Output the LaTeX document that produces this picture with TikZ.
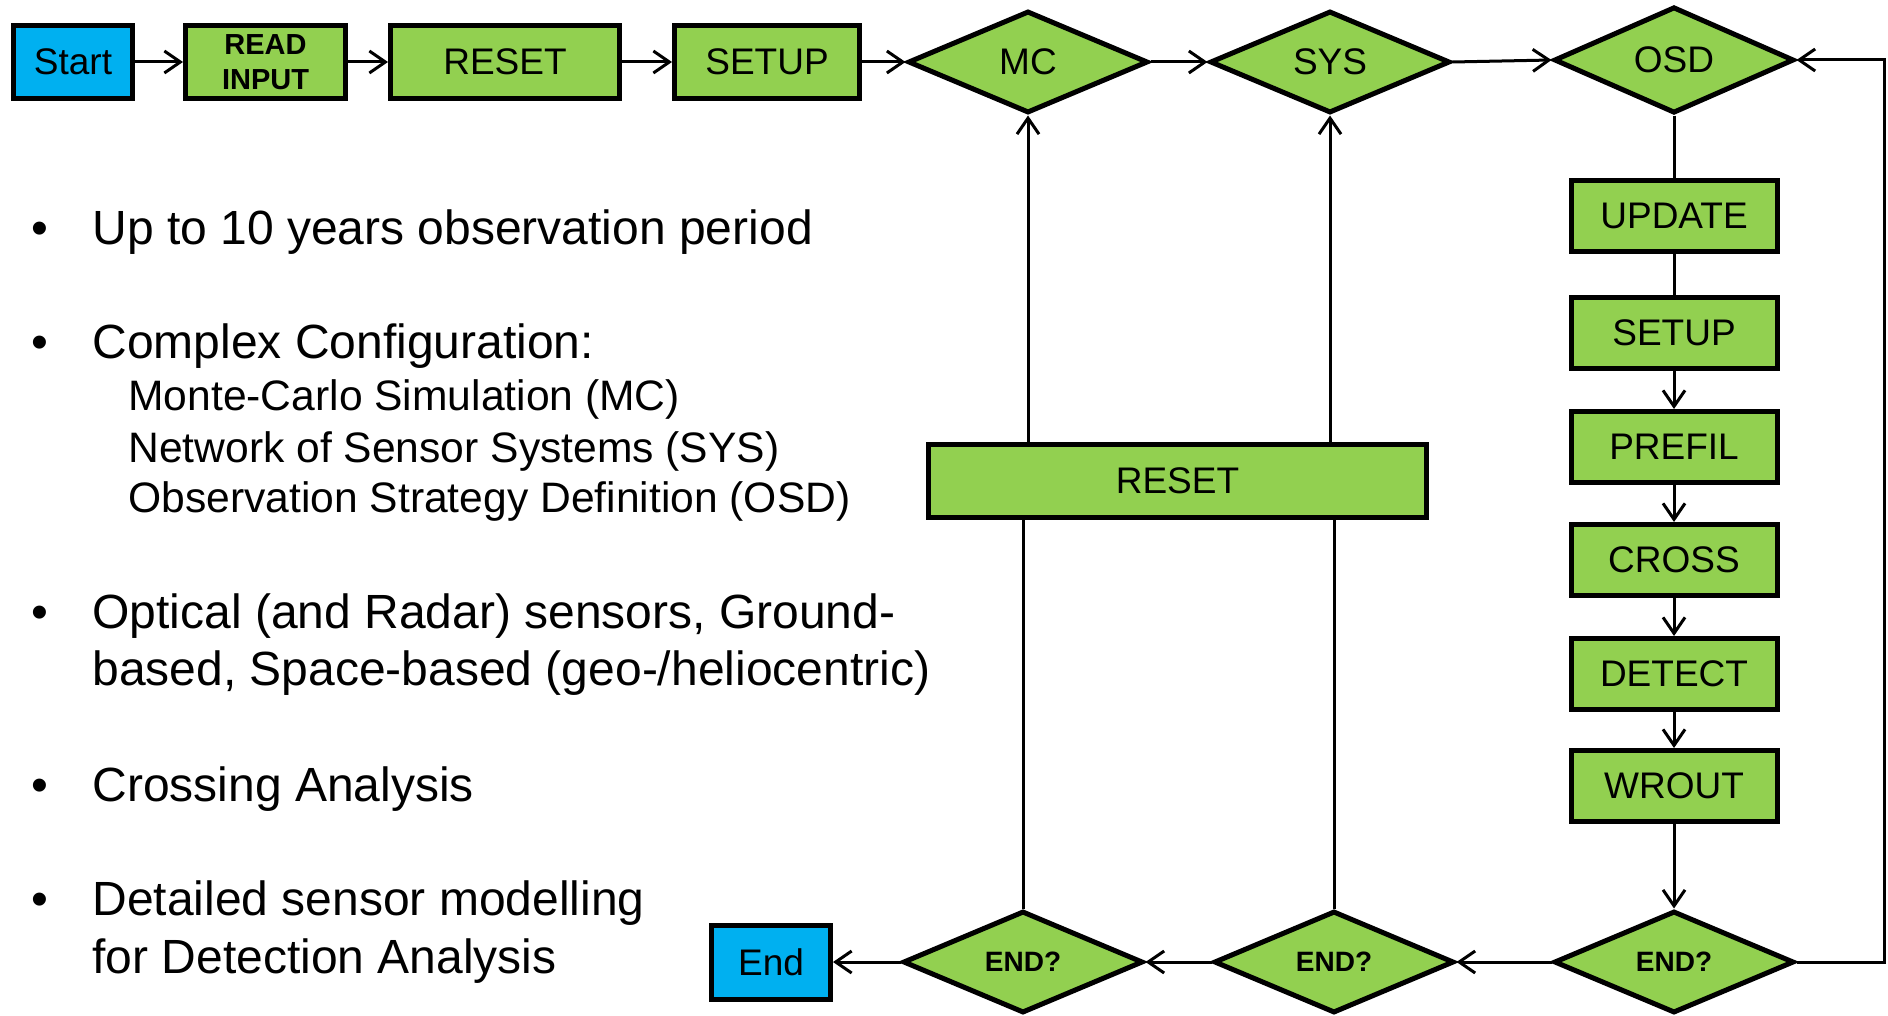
\documentclass[tikz,border=0pt]{standalone}
\usepackage{fontspec}
\setmainfont{Liberation Sans}
\usetikzlibrary{shapes.geometric,arrows.meta}
\definecolor{boxgreen}{HTML}{92D050}
\definecolor{boxblue}{HTML}{00B0F0}
\tikzset{
  box/.style={draw=black, line width=2.5pt, fill=boxgreen, rectangle, inner sep=0pt,
    font=\fontsize{18.5}{22}\selectfont},
  termbox/.style={box, fill=boxblue, minimum width=59.5pt, minimum height=36.5pt},
  topbox/.style={box, minimum height=36.5pt},
  colbox/.style={box, minimum width=103pt, minimum height=35.5pt},
  decide/.style={draw=black, line width=2.5pt, fill=boxgreen, diamond, inner sep=0pt,
    minimum width=120pt, minimum height=51pt, font=\fontsize{18.5}{22}\selectfont},
  enddec/.style={decide, font=\bfseries\fontsize{14}{17}\selectfont},
  conn/.style={line width=1.5pt},
  arr/.style={conn, -{Straight Barb[length=8pt,width=11pt]}},
  bullet/.style={anchor=base, inner sep=0pt, font=\fontsize{24}{28}\selectfont},
  bigtxt/.style={anchor=base west, inner sep=0pt, font=\fontsize{24}{28}\selectfont},
  subtxt/.style={anchor=base west, inner sep=0pt, font=\fontsize{21.3}{25}\selectfont},
}
\begin{document}
\begin{tikzpicture}[x=0.5pt,y=-0.5pt]
\useasboundingbox (0,0) rectangle (1888,1016);
% top row
\node[termbox] (start) at (73,62) {Start};
\node[topbox, minimum width=80pt, align=center, font=\bfseries\fontsize{14.5}{17.5}\selectfont] (read) at (265.5,62) {READ\\INPUT};
\node[topbox, minimum width=114.5pt] (reset1) at (505,62) {RESET};
\node[topbox, minimum width=92.5pt] (setup1) at (767,62) {SETUP};
\node[decide] (mc) at (1028,62) {MC};
\node[decide] (sys) at (1330,62) {SYS};
\node[decide] (osd) at (1674,60) {OSD};
% right column
\node[colbox] (update) at (1674,216) {UPDATE};
\node[colbox] (setup2) at (1674,333) {SETUP};
\node[colbox] (prefil) at (1674,447) {PREFIL};
\node[colbox] (cross) at (1674,560) {CROSS};
\node[colbox] (detect) at (1674,674) {DETECT};
\node[colbox] (wrout) at (1674,786) {WROUT};
% bottom row
\node[enddec] (eq3) at (1674,962) {END?};
\node[enddec] (eq2) at (1334,962) {END?};
\node[enddec] (eq1) at (1023,962) {END?};
\node[termbox, minimum height=37pt] (endn) at (771,962) {End};
% middle reset
\node[box, minimum width=249pt, minimum height=36.5pt] (reset2) at (1177.5,481) {RESET};
\coordinate (loop) at (1884,962);
% connectors
\draw[arr] (start) -- (read);
\draw[arr] (read) -- (reset1);
\draw[arr] (reset1) -- (setup1);
\draw[arr] (setup1) -- (mc);
\draw[arr] (mc) -- (sys);
\draw[arr] (sys.east) -- (osd.west);
\draw[conn] (osd.south) -- (update.north);
\draw[conn] (update) -- (setup2);
\draw[arr] (setup2) -- (prefil);
\draw[arr] (prefil) -- (cross);
\draw[arr] (cross) -- (detect);
\draw[arr] (detect) -- (wrout);
\draw[arr] (wrout.south) -- (eq3.north);
\draw[arr] (eq3.west) -- (eq2.east);
\draw[arr] (eq2.west) -- (eq1.east);
\draw[arr] (eq1.west) -- (endn.east);
\draw[arr] (eq3.east) -- (loop) |- (osd.east);
\draw[conn] (eq1.north) -- (eq1.north |- reset2.south);
\draw[arr] (mc.south |- reset2.north) -- (mc.south);
\draw[conn] (eq2.north) -- (eq2.north |- reset2.south);
\draw[arr] (sys.south |- reset2.north) -- (sys.south);
% bullet text
\node[bullet] (d1) at (40,244) {•};
\node[bigtxt] (t1) at (92,244) {Up to 10 years observation period};
\node[bullet] (d2) at (40,358) {•};
\node[bigtxt] (t2) at (92,358) {Complex Configuration:};
\node[subtxt] (s1) at (128,410) {Monte-Carlo Simulation (MC)};
\node[subtxt] (s2) at (128,462) {Network of Sensor Systems (SYS)};
\node[subtxt] (s3) at (128,512) {Observation Strategy Definition (OSD)};
\node[bullet] (d3) at (40,628) {•};
\node[bigtxt] (t3) at (92,628) {Optical (and Radar) sensors, Ground-};
\node[bigtxt] (t3b) at (92,685) {based, Space-based (geo-/heliocentric)};
\node[bullet] (d4) at (40,801) {•};
\node[bigtxt] (t4) at (92,801) {Crossing Analysis};
\node[bullet] (d5) at (40,915) {•};
\node[bigtxt] (t5) at (92,915) {Detailed sensor modelling};
\node[bigtxt] (t5b) at (92,973) {for Detection Analysis};
\end{tikzpicture}
\end{document}
